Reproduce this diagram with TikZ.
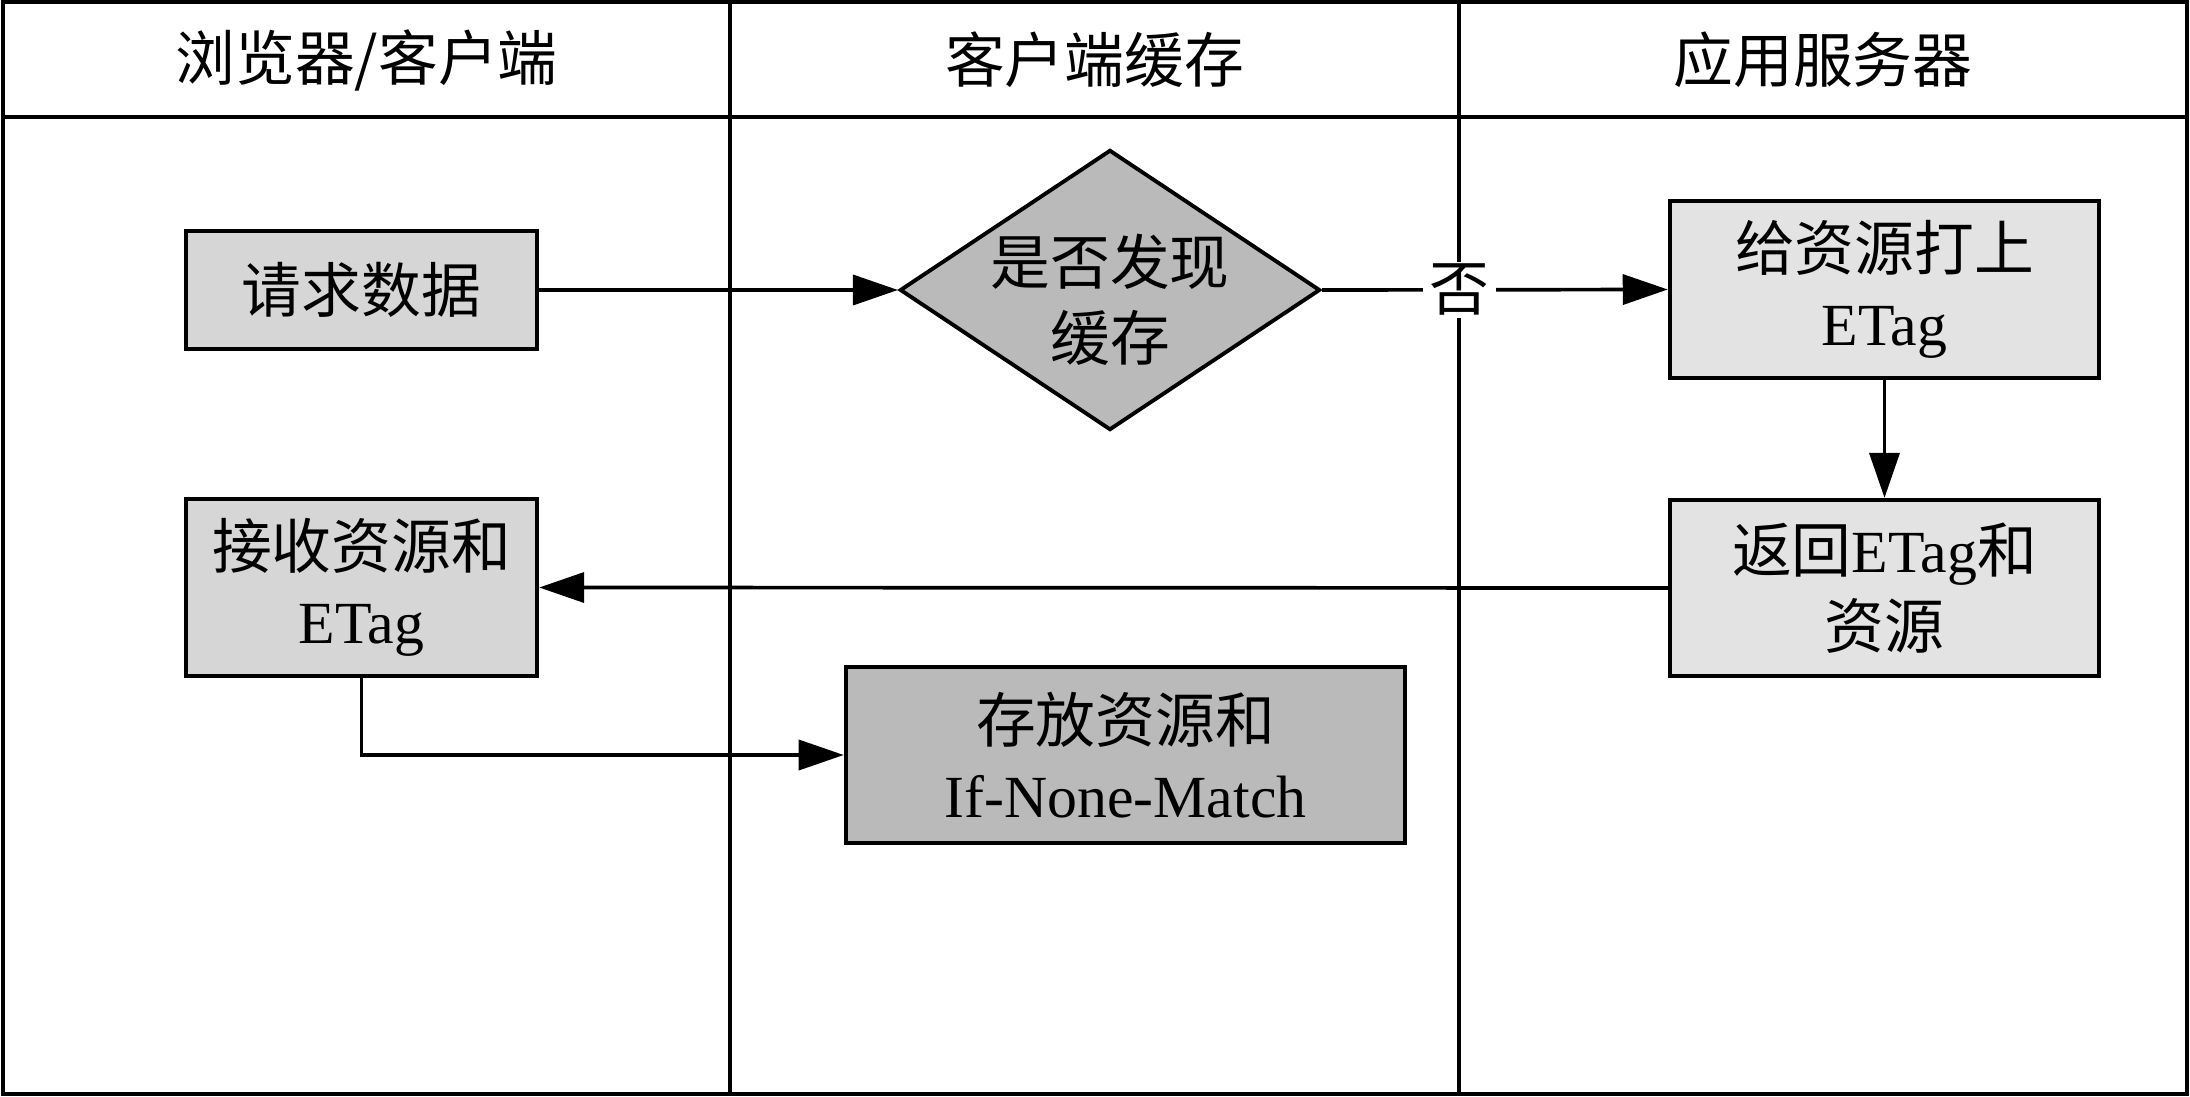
\documentclass[tikz,border=0pt]{standalone}
\usepackage{fontspec}
\setmainfont{Liberation Serif}
\newfontfamily\cjk{Noto Sans CJK SC}
\usetikzlibrary{arrows.meta,shapes.geometric}
\definecolor{fillA}{HTML}{D6D6D6}
\definecolor{fillB}{HTML}{E3E3E3}
\definecolor{fillC}{HTML}{BABABA}
\begin{document}
\begin{tikzpicture}[x=0.01cm,y=-0.01cm,
  txt/.style={font=\fontsize{17}{21.5}\selectfont, align=center},
  box/.style={txt, draw, line width=1.2pt, rectangle, inner sep=0pt},
  decision/.style={draw, line width=1.1pt, diamond, inner sep=0pt, fill=fillC},
  lane/.style={line width=1pt},
  conn/.style={line width=1.05pt, -{Triangle[length=0.45cm,width=0.3cm]}}]
\useasboundingbox (0,0) rectangle (2190,1097);
% lanes
\draw[line width=1.2pt] (3,2) rectangle (2187,1094);
\draw[line width=1.2pt] (3,117) -- (2187,117);
\draw[lane] (730,2) -- (730,1094);
\draw[lane] (1459,2) -- (1459,1094);
\node[txt] (h1) at (366.5,60) {\cjk 浏览器/客户端};
\node[txt] (h2) at (1094.5,60) {\cjk 客户端缓存};
\node[txt] (h3) at (1823,60) {\cjk 应用服务器};
% nodes
\node[box, fill=fillA, minimum width=3.51cm, minimum height=1.18cm] (req) at (361.5,290) {\cjk 请求数据};
\node[decision, minimum width=4.2cm, minimum height=2.8cm] (dia) at (1110,290) {};
\node[txt] (diat) at (1110,300) {\cjk 是否发现\\\cjk 缓存};
\node[box, fill=fillB, minimum width=4.29cm, minimum height=1.77cm] (give) at (1884.5,289.5) {\cjk 给资源打上\\ETag};
\node[box, fill=fillB, minimum width=4.29cm, minimum height=1.76cm] (ret) at (1884.5,588) {{\cjk 返回}ETag{\cjk 和}\\\cjk 资源};
\node[box, fill=fillA, minimum width=3.51cm, minimum height=1.77cm] (recv) at (361.5,587.5) {\cjk 接收资源和\\ETag};
\node[box, fill=fillC, minimum width=5.59cm, minimum height=1.76cm] (store) at (1125.5,755) {\cjk 存放资源和\\If-None-Match};
% connectors
\draw[conn] (req.east) -- (dia.west);
\draw[conn] (dia.east) -- node[pos=0.397, txt, fill=white, inner xsep=0.065cm, inner ysep=0.02cm] (no) {\cjk 否} (give.west);
\draw[conn] (give.south) -- (ret.north);
\draw[conn] (ret.west) -- (recv.east);
\draw[conn] (recv.south) |- (store.west);
\end{tikzpicture}
\end{document}
